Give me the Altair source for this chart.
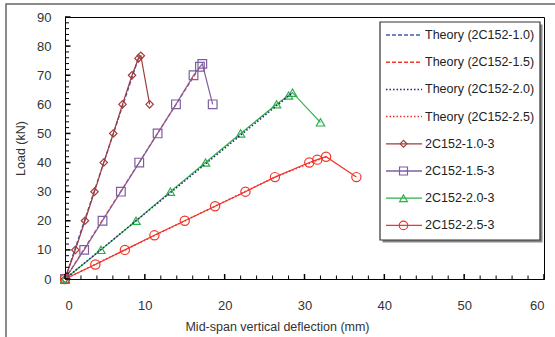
import altair as alt
import pandas as pd

# ---- data ----
s10_x = [0, 1.3, 2.5, 3.7, 4.85, 6.05, 7.2, 8.4, 9.2, 9.5, 10.6]
s10_y = [0, 10, 20, 30, 40, 50, 60, 70, 75.8, 76.7, 60]
s15_x = [0, 2.4, 4.7, 7.0, 9.3, 11.6, 13.9, 16.1, 16.9, 17.2, 18.5]
s15_y = [0, 10, 20, 30, 40, 50, 60, 70, 72.9, 73.9, 60]
s20_x = [0, 4.5, 8.9, 13.2, 17.6, 22.0, 26.5, 28.0, 28.5, 32.0]
s20_y = [0, 10, 20, 30, 40, 50, 60, 63, 64, 53.8]
s25_x = [0, 3.8, 7.5, 11.2, 15.0, 18.8, 22.6, 26.3, 30.6, 31.6, 32.7, 36.5]
s25_y = [0, 5, 10, 15, 20, 25, 30, 35, 40, 41, 42, 35]

t10_x = [0, 9.2]
t10_y = [0, 75.8]
t15_x = [0, 16.9]
t15_y = [0, 72.9]
t20_x = [0, 28.5]
t20_y = [0, 64]
t25_x = [0, 26.3, 32.7]
t25_y = [0, 35, 42]

x_ticks_major = [0, 10, 20, 30, 40, 50, 60]
y_ticks_major = [0, 10, 20, 30, 40, 50, 60, 70, 80, 90]

legend_labels = ["Theory (2C152-1.0)", "Theory (2C152-1.5)", "Theory (2C152-2.0)",
                 "Theory (2C152-2.5)", "2C152-1.0-3", "2C152-1.5-3", "2C152-2.0-3", "2C152-2.5-3"]

# ---- styles ----
FONT = "Liberation Sans"
W, H = 479, 262
XMAX, YMAX = 60, 90
px_x = XMAX / W
px_y = YMAX / H

xs = alt.Scale(domain=[0, XMAX], nice=False, zero=False)
ys = alt.Scale(domain=[0, YMAX], nice=False, zero=False)

axis_x = alt.Axis(values=x_ticks_major, ticks=False, grid=False, domainColor="black",
                  domainWidth=1, labelFont=FONT, labelFontSize=13, labelColor="#333",
                  labelPadding=20, title="Mid-span vertical deflection (mm)", titleFont=FONT,
                  titleFontSize=12.5, titleFontWeight="normal", titleColor="#333",
                  titleX=212, titleAlign="center", titleY=47, titleBaseline="middle")
axis_y = alt.Axis(values=y_ticks_major, ticks=False, grid=False, domainColor="black",
                  domainWidth=1, labelFont=FONT, labelFontSize=13, labelColor="#333",
                  labelPadding=14, title="Load (kN)", titleFont=FONT, titleFontSize=12.5,
                  titleFontWeight="normal", titleColor="#333", titleX=-45, titleY=H / 2,
                  titleAngle=-90, titleBaseline="middle", titleAlign="center")


def enc(ch):
    return ch.encode(x=alt.X("x:Q", scale=xs, axis=axis_x),
                     y=alt.Y("y:Q", scale=ys, axis=axis_y))


def df(xv, yv):
    return pd.DataFrame({"x": xv, "y": yv})


layers = []

# outer border of the figure
layers.append(alt.Chart(df([0], [0])).mark_rect(filled=False, stroke="#666", strokeWidth=1.5).encode(
    x=alt.value(-59), x2=alt.value(600), y=alt.value(-13), y2=alt.value(400)))

theory = [
    (t10_x, t10_y, "#3F5FAA", [4, 2]),
    (t15_x, t15_y, "#F03C2E", [4, 2]),
    (t20_x, t20_y, "#1F2A6B", [1.5, 2]),
    (t25_x, t25_y, "#F0302E", [1.5, 2]),
]
exper = [
    (s10_x, s10_y, "#A33A3A", "diamond", 55),
    (s15_x, s15_y, "#7D5FA0", "square", 75),
    (s20_x, s20_y, "#2DB04B", "triangle-up", 70),
    (s25_x, s25_y, "#F0352A", "circle", 85),
]

# theory lines 1.0/1.5 beneath
for xv, yv, c, d in theory[:2]:
    layers.append(enc(alt.Chart(df(xv, yv)).mark_line(color=c, strokeDash=d, strokeWidth=1.3)))

for xv, yv, c, shp, sz in exper:
    layers.append(enc(alt.Chart(df(xv, yv)).mark_line(color=c, strokeWidth=1.2)))
    layers.append(enc(alt.Chart(df(xv, yv)).mark_point(color=c, shape=shp, size=sz, filled=False,
                                                       strokeWidth=1.2, opacity=1)))

for xv, yv, c, d in theory[2:]:
    layers.append(enc(alt.Chart(df(xv, yv)).mark_line(color=c, strokeDash=d, strokeWidth=1.5)))

# minor / major ticks pointing inward
minor_x = [v for v in range(0, 61, 2) if v % 10]
minor_y = [v for v in range(0, 91, 2) if v % 10]
layers.append(alt.Chart(pd.DataFrame({"x": minor_x})).mark_rule(color="black", strokeWidth=1).encode(
    x=alt.X("x:Q", scale=xs, axis=axis_x), y=alt.value(H), y2=alt.value(H - 3.5)))
layers.append(alt.Chart(pd.DataFrame({"x": x_ticks_major})).mark_rule(color="black", strokeWidth=1.5).encode(
    x=alt.X("x:Q", scale=xs, axis=axis_x), y=alt.value(H), y2=alt.value(H - 5)))
layers.append(alt.Chart(pd.DataFrame({"y": minor_y})).mark_rule(color="black", strokeWidth=1).encode(
    y=alt.Y("y:Q", scale=ys, axis=axis_y), x=alt.value(0), x2=alt.value(4)))
layers.append(alt.Chart(pd.DataFrame({"y": y_ticks_major})).mark_rule(color="black", strokeWidth=1.5).encode(
    y=alt.Y("y:Q", scale=ys, axis=axis_y), x=alt.value(0), x2=alt.value(5.5)))

# ---- legend (in data units) ----
bx0, bx1 = (380 - 65) * px_x, (540 - 65) * px_x
by0, by1 = (279 - 240) * px_y, (279 - 22) * px_y
box = pd.DataFrame({"x": [bx0], "x2": [bx1], "y": [by0], "y2": [by1]})
sh = pd.DataFrame({"x": [bx0 + 2.5 * px_x], "x2": [bx1 + 2.5 * px_x],
                   "y": [by0 - 2.5 * px_y], "y2": [by1 - 2.5 * px_y]})
layers.append(alt.Chart(sh).mark_rect(color="#888").encode(
    x=alt.X("x:Q", scale=xs, axis=axis_x), x2="x2:Q",
    y=alt.Y("y:Q", scale=ys, axis=axis_y), y2="y2:Q"))
layers.append(alt.Chart(box).mark_rect(fill="white", stroke="#333", strokeWidth=1.2).encode(
    x=alt.X("x:Q", scale=xs, axis=axis_x), x2="x2:Q",
    y=alt.Y("y:Q", scale=ys, axis=axis_y), y2="y2:Q"))

lx0, lx1, lxm, ltx = (386 - 65) * px_x, (422 - 65) * px_x, (403.5 - 65) * px_x, (425 - 65) * px_x
styles = [(c, d, None) for _, _, c, d in theory] + [(c, None, s) for _, _, c, s, _ in exper]
sizes = [None] * 4 + [e[4] for e in exper]
for i, (lab, (c, d, shp)) in enumerate(zip(legend_labels, styles)):
    yy = (279 - (35 + i * 27.2)) * px_y
    seg = pd.DataFrame({"x": [lx0, lx1], "y": [yy, yy]})
    if d is not None:
        layers.append(enc(alt.Chart(seg).mark_line(color=c, strokeDash=d, strokeWidth=1.5)))
    else:
        layers.append(enc(alt.Chart(seg).mark_line(color=c, strokeWidth=1.3)))
        layers.append(enc(alt.Chart(df([lxm], [yy])).mark_point(
            color=c, shape=shp, size=sizes[i] * 0.85, filled=False, strokeWidth=1.2, opacity=1)))
    layers.append(alt.Chart(pd.DataFrame({"x": [ltx], "y": [yy], "t": [lab]})).mark_text(
        align="left", baseline="middle", font=FONT, fontSize=12.5, color="#222").encode(
        x=alt.X("x:Q", scale=xs, axis=axis_x), y=alt.Y("y:Q", scale=ys, axis=axis_y), text="t:N"))

chart = alt.layer(*layers).properties(
    width=W, height=H,
    autosize=alt.AutoSizeParams(type="none"),
    padding={"left": 65, "top": 17, "right": 11, "bottom": 58},
    background="white",
).configure_view(stroke="black", strokeWidth=1)

chart.save("out.html", embed_options={"renderer": "svg", "actions": False})
